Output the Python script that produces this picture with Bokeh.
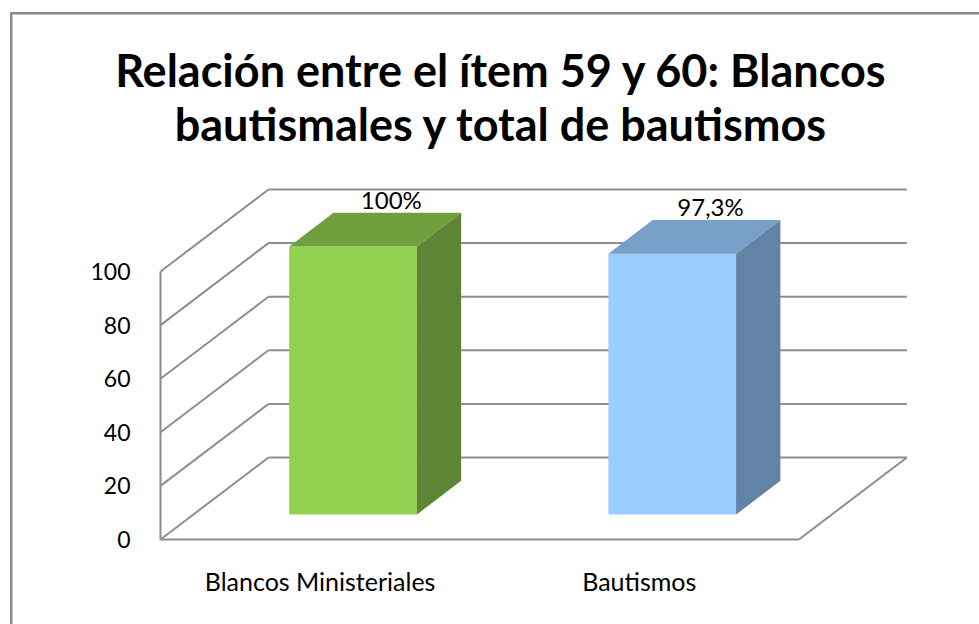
from bokeh.plotting import figure
from bokeh.models import Range1d, FixedTicker
from bokeh.embed import file_html
from bokeh.resources import INLINE
from bokeh.core.properties import value

# ---- data ----
categories = ["Blancos Ministeriales", "Bautismos"]
values = [100, 97.3]
bar_labels = ["100%", "97,3%"]
y_ticks = [0, 20, 40, 60, 80, 100]
title_lines = ["Relación entre el ítem 59 y 60: Blancos",
               "bautismales y total de bautismos"]

# ---- style ----
front_colors = ["#92D050", "#99CCFF"]
top_colors = ["#70A03D", "#789FC8"]
side_colors = ["#5E8535", "#6283A6"]
grid_color = "#8E8E8E"
border_color = "#8C8C8C"
FONT = "Lato"

W, H = 979, 624
ORIGIN_X, ORIGIN_Y = 160, 539   # canvas position of the front (0, 0) corner
PX_X = 319.2          # pixels per category
PX_Y = 2.68           # pixels per value unit
DXu = 108 / PX_X      # depth projection (x, category units)
DYu = 82 / PX_Y       # depth projection (y, value units)
D0, D1 = 0.305, 0.715 # bar depth extent (fraction of floor depth)
BW = 0.40             # bar width (fraction of category)

n = len(categories)
vmax = max(y_ticks)

p = figure(width=W, height=H, output_backend="svg", toolbar_location=None,
           title=None,
           x_range=Range1d(-ORIGIN_X / PX_X, (W - ORIGIN_X) / PX_X),
           y_range=Range1d(-(H - ORIGIN_Y) / PX_Y, ORIGIN_Y / PX_Y),
           min_border=0)
p.background_fill_alpha = 0
p.border_fill_alpha = 0
p.outline_line_color = None
p.grid.visible = False
# chart-area border (left and top edges; right/bottom fall outside the view)
p.styles = {
    "background-image": f"linear-gradient({border_color},{border_color}), "
                        f"linear-gradient({border_color},{border_color})",
    "background-size": "2.5px 100%, 100% 2.5px",
    "background-position": "10px 12px, 10px 12px",
    "background-repeat": "no-repeat",
    "background-color": "white",
}

# ---- walls & floor ----
xs, ys = [], []
for v in y_ticks:
    xs.append([0, DXu]); ys.append([v, v + DYu])              # side wall
    xs.append([DXu, n + DXu]); ys.append([v + DYu, v + DYu])  # back wall
xs.append([0, 0]); ys.append([0, vmax])                        # front axis
xs.append([0, n]); ys.append([0, 0])                           # floor front
xs.append([n, n + DXu]); ys.append([0, DYu])                   # floor right
p.multi_line(xs, ys, line_color=grid_color, line_width=2)

# ---- bars ----
fl, fr, fb, ft = [], [], [], []
txs, tys, sxs, sys_ = [], [], [], []
lx, ly = [], []
for i, v in enumerate(values):
    c = i + 0.5
    xl0 = c - BW / 2 + D0 * DXu
    xr0 = c + BW / 2 + D0 * DXu
    xl1 = c - BW / 2 + D1 * DXu
    xr1 = c + BW / 2 + D1 * DXu
    y0 = D0 * DYu
    y1 = D1 * DYu
    fl.append(xl0); fr.append(xr0); fb.append(y0); ft.append(v + y0)
    txs.append([xl0, xr0, xr1, xl1]); tys.append([v + y0, v + y0, v + y1, v + y1])
    sxs.append([xr0, xr1, xr1, xr0]); sys_.append([y0, y1, v + y1, v + y0])
    lx.append(c + D1 * DXu)
    ly.append(v + y1)

p.quad(left=fl, right=fr, bottom=fb, top=ft, fill_color=front_colors, line_color=None)
p.patches(sxs, sys_, fill_color=side_colors, line_color=None)
p.patches(txs, tys, fill_color=top_colors, line_color=None)

p.text(x=lx, y=ly, text=bar_labels, text_font=value(FONT), text_font_size="24px",
       text_align="center", text_baseline="bottom", x_offset=-6, y_offset=1,
       text_color="black")

# ---- title ----
tx = (501 - ORIGIN_X) / PX_X
p.text(x=[tx, tx], y=[(ORIGIN_Y - 69) / PX_Y, (ORIGIN_Y - 123) / PX_Y],
       text=title_lines, text_font=value(FONT), text_font_style="bold",
       text_font_size="45px", text_align="center", text_baseline="middle",
       text_color="black")

# ---- axes (pinned to the front corner of the 3-D box) ----
p.yaxis.fixed_location = 0
p.yaxis.ticker = FixedTicker(ticks=y_ticks)
p.yaxis.axis_line_color = None
p.yaxis.major_tick_line_color = None
p.yaxis.minor_tick_line_color = None
p.yaxis.major_label_standoff = 24
p.yaxis.major_label_text_font = FONT
p.yaxis.major_label_text_font_size = "23px"
p.yaxis.major_label_text_color = "black"

p.xaxis.fixed_location = 0
p.xaxis.ticker = FixedTicker(ticks=[i + 0.5 for i in range(n)])
p.xaxis.major_label_overrides = {i + 0.5: cat for i, cat in enumerate(categories)}
p.xaxis.axis_line_color = None
p.xaxis.major_tick_line_color = None
p.xaxis.minor_tick_line_color = None
p.xaxis.major_label_standoff = 20
p.xaxis.major_label_text_font = FONT
p.xaxis.major_label_text_font_size = "25px"
p.xaxis.major_label_text_color = "black"

open("out.html", "w").write(file_html(p, INLINE))
